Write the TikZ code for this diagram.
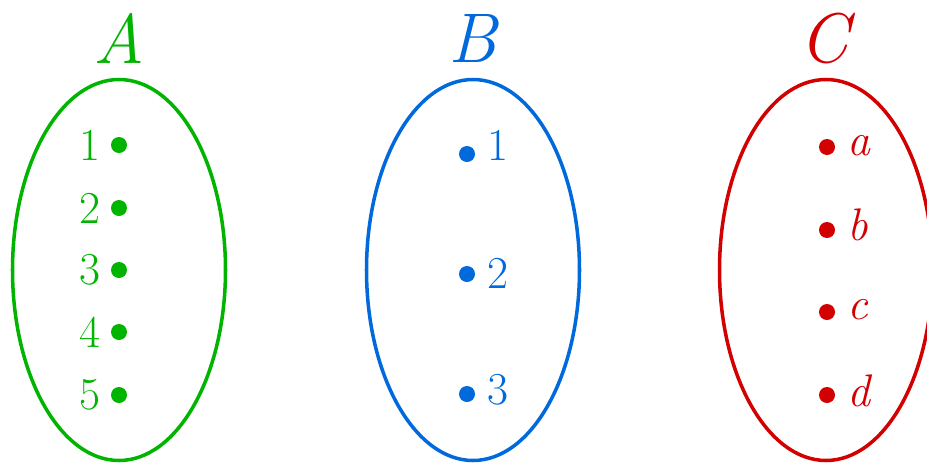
\documentclass[tikz,border=0pt]{standalone}
\usepackage{fontspec}
\usepackage{tikz}
\usetikzlibrary{positioning}
\definecolor{setgreen}{RGB}{0,180,0}
\definecolor{setblue}{RGB}{0,105,220}
\definecolor{setred}{RGB}{210,0,0}
\tikzset{
  setline/.style={line width=2pt},
  elem/.style={circle,fill,inner sep=0pt,minimum size=0.32cm},
  elemlabel/.style={inner sep=0pt,font=\fontsize{26}{30}\selectfont},
  setname/.style={inner sep=0pt,font=\fontsize{40}{44}\selectfont\itshape}
}
\begin{document}
\begin{tikzpicture}[x=0.02cm,y=-0.02cm]
  \useasboundingbox (0,0) rectangle (927,464);
  % set A
  \node[setname,text=setgreen] (nameA) at (119,38) {A};
  \draw[setline,setgreen] (119,270) ellipse [x radius=106.5,y radius=190.5];
  \foreach \i/\y in {1/145,2/208,3/270,4/332,5/395} {
    \node[elem,setgreen] (a\i) at (119,\y) {};
    \node[elemlabel,text=setgreen,left=0.2cm of a\i] (la\i) {\i};
  }
  % set B
  \node[setname,text=setblue] (nameB) at (473,38) {B};
  \draw[setline,setblue] (473,270) ellipse [x radius=106.5,y radius=190.5];
  \node[elem,setblue] (b1) at (467,154) {};
  \node[elem,setblue] (b2) at (467,274) {};
  \node[elem,setblue] (b3) at (467,394) {};
  \node[elemlabel,text=setblue,anchor=west] (lb1) at (487,145) {1};
  \node[elemlabel,text=setblue,anchor=west] (lb2) at (487,273) {2};
  \node[elemlabel,text=setblue,anchor=west] (lb3) at (487,390) {3};
  % set C
  \node[setname,text=setred] (nameC) at (824,38) {C};
  \draw[setline,setred] (826,270) ellipse [x radius=106.5,y radius=190.5];
  \node[elem,setred] (c1) at (827,147) {};
  \node[elem,setred] (c2) at (827,230) {};
  \node[elem,setred] (c3) at (827,312) {};
  \node[elem,setred] (c4) at (827,395) {};
  \node[elemlabel,text=setred,anchor=west,font=\fontsize{26}{30}\selectfont\itshape] (lc1) at (847,146) {a};
  \node[elemlabel,text=setred,anchor=west,font=\fontsize{26}{30}\selectfont\itshape] (lc2) at (847,225) {b};
  \node[elemlabel,text=setred,anchor=west,font=\fontsize{26}{30}\selectfont\itshape] (lc3) at (847,310) {c};
  \node[elemlabel,text=setred,anchor=west,font=\fontsize{26}{30}\selectfont\itshape] (lc4) at (847,391) {d};
\end{tikzpicture}
\end{document}
